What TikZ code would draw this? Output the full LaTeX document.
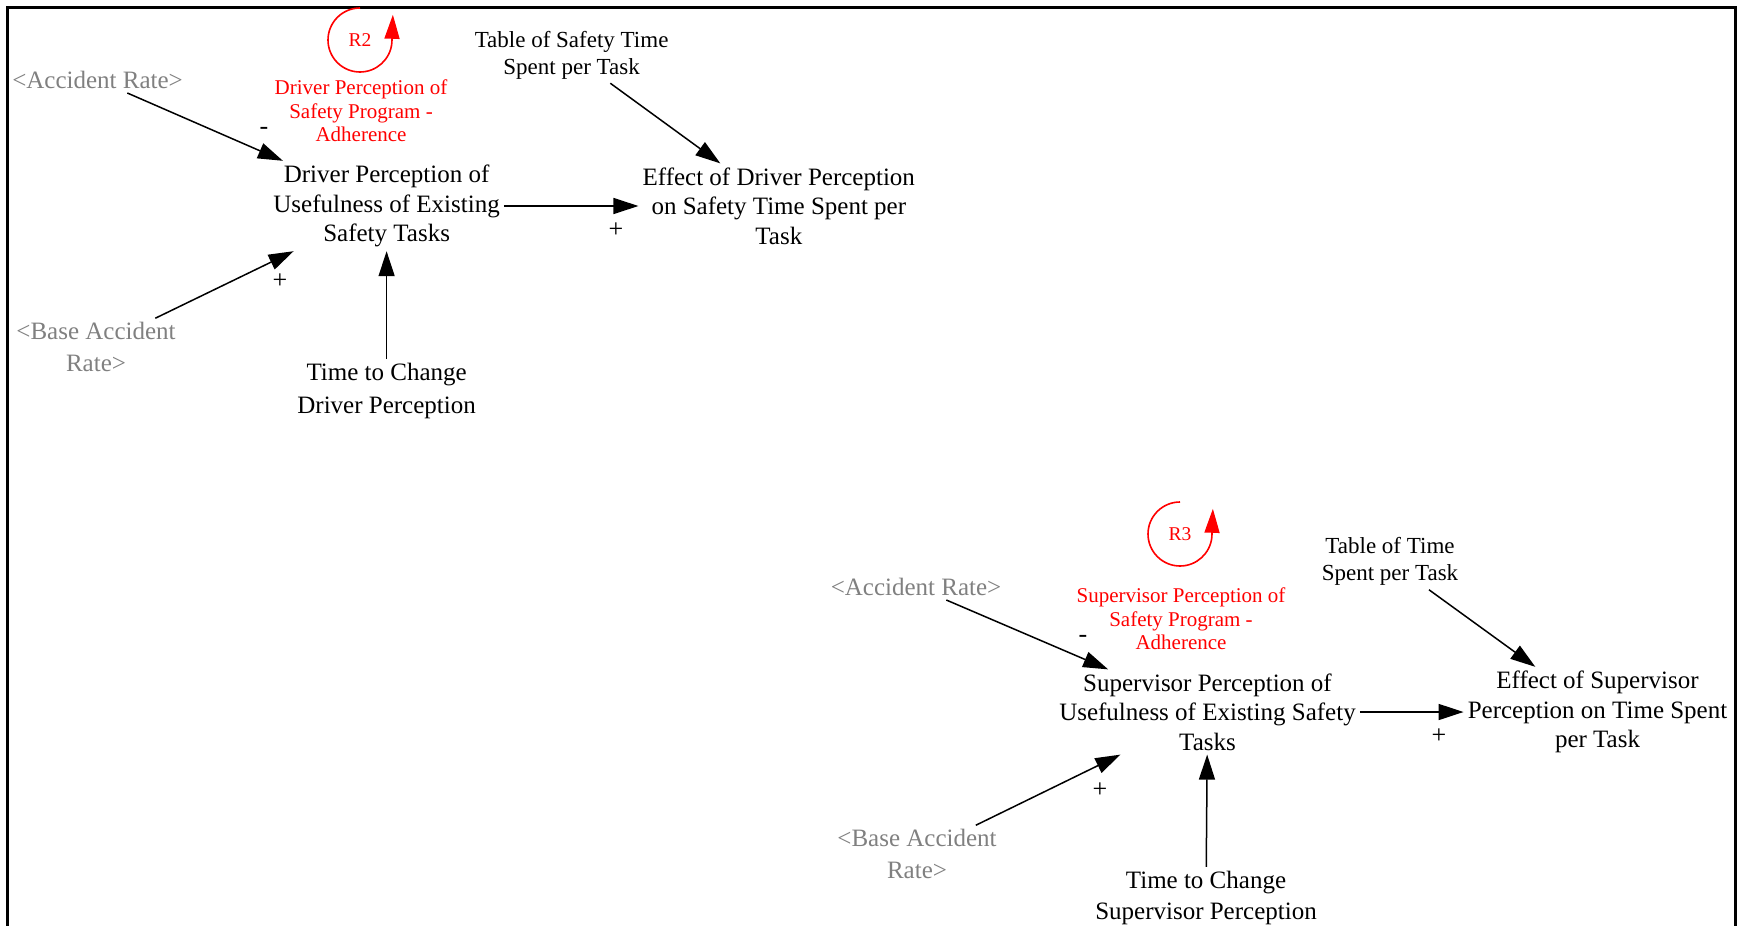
\documentclass[tikz,border=0pt]{standalone}
\usepackage{fontspec}
\setmainfont{Liberation Serif}
\usetikzlibrary{arrows.meta}
\definecolor{shadowgray}{RGB}{128,128,128}

\begin{document}
\begin{tikzpicture}[x=1pt,y=-1pt,
	var/.style={align=center,inner sep=4pt,font=\fontsize{25}{29.5}\selectfont},
	shadow/.style={var,text=shadowgray,font=\fontsize{25}{31.5}\selectfont},
	lookup/.style={var,font=\fontsize{23}{27}\selectfont},
	loopname/.style={align=center,text=red,font=\fontsize{21}{23.3}\selectfont},
	looptag/.style={text=red,font=\fontsize{19.5}{19.5}\selectfont},
	loopline/.style={red,line width=1.6pt,-{Triangle[length=24pt,width=15pt]}},
	link/.style={line width=1.5pt,-{Triangle[length=25pt,width=16pt]}},
	sign/.style={font=\fontsize{26}{26}\selectfont}]
\useasboundingbox (0,0) rectangle (1737,926);
\draw [line width=3pt] (7,960) -- (7,7) -- (1735,7) -- (1735,960);

% driver sector
\node [var] (dpu) at (386.6,206) {Driver Perception of\\Usefulness of Existing\\Safety Tasks};
\node [var] (edp) at (778.8,206) {Effect of Driver Perception\\on Safety Time Spent per\\Task};
\node [lookup] (tst) at (571.6,55) {Table of Safety Time\\Spent per Task};
\node [shadow] (ar1) at (97.5,80) {<Accident Rate>};
\node [shadow] (bar1) at (96,347) {<Base Accident\\Rate>};
\node [var,font=\fontsize{25}{32.5}\selectfont] (tcd) at (386.6,391) {Time to Change\\Driver Perception};
\node [loopname] (dpa) at (361,111) {Driver Perception of\\Safety Program -\\Adherence};
\node [looptag] (R2) at (360,40) {R2};

% supervisor sector
\node [var] (spu) at (1207.5,712) {Supervisor Perception of\\Usefulness of Existing Safety\\Tasks};
\node [var] (esp) at (1597.5,712) {Effect of Supervisor\\Perception on Time Spent\\per Task};
\node [lookup] (tts) at (1390,561.5) {Table of Time\\Spent per Task};
\node [shadow] (ar2) at (916,587) {<Accident Rate>};
\node [shadow] (bar2) at (917,854) {<Base Accident\\Rate>};
\node [var,font=\fontsize{25}{31}\selectfont] (tcs) at (1206,898) {Time to Change\\Supervisor Perception};
\node [loopname] (spa) at (1181,619) {Supervisor Perception of\\Safety Program -\\Adherence};
\node [looptag] (R3) at (1180,534) {R3};

\foreach \a/\b in {ar1/dpu, bar1/dpu, tcd/dpu, dpu/edp, tst/edp,
                   ar2/spu, bar2/spu, tcs/spu, spu/esp, tts/esp}
	\draw [link] (\a) -- (\b);

\foreach \p/\s/\n in {{264,131}/-/pa, {280,281}/+/pb, {616,230}/+/pc,
                      {1083,639}/-/pd, {1100,790}/+/pe, {1439,736}/+/pf}
	\node [sign] (\n) at (\p) {\s};

\foreach \n in {R2,R3}
	\draw [loopline] (\n.center) ++(270:32) arc [start angle=270,end angle=5,radius=32] -- ++(1,-28);

\end{tikzpicture}
\end{document}
